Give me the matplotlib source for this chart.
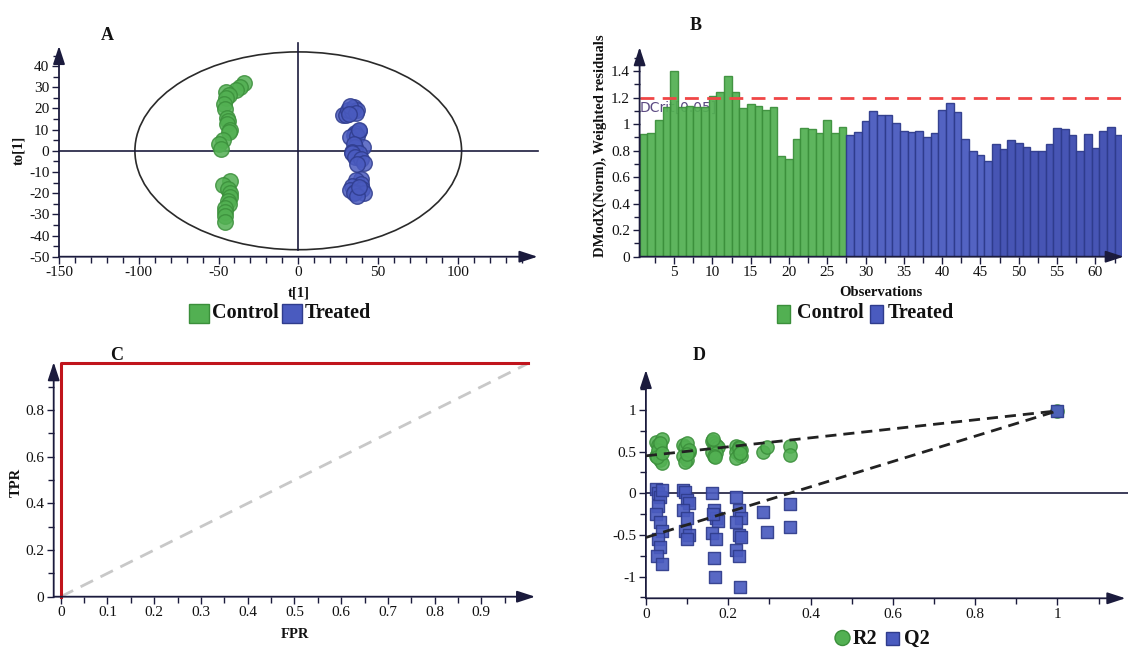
import matplotlib
matplotlib.use("Agg")
import matplotlib.pyplot as plt
from matplotlib.patches import Ellipse, Rectangle
from matplotlib.ticker import MultipleLocator, FixedLocator, FuncFormatter

plt.rcParams["font.family"] = ["Liberation Serif", "DejaVu Serif"]
plt.rcParams["axes.unicode_minus"] = False

# ---------------- data ----------------
# A: OPLS-DA scores
control_t = [-34.2, -36.5, -39.2, -45.4, -43.6, -45.0, -46.8, -45.9, -44.8, -44.0,
             -44.8, -42.5, -43.6, -47.0, -49.9, -48.6, -42.5, -47.0, -44.3, -43.0,
             -42.5, -44.3, -43.6, -46.0, -45.9, -45.9, -45.9]
control_to = [31.8, 29.9, 28.6, 27.8, 26.2, 25.0, 22.3, 19.9, 15.7, 14.0,
              12.8, 10.0, 8.9, 4.9, 3.3, 0.9, -14.1, -16.1, -18.0, -20.0,
              -22.0, -23.6, -25.1, -27.0, -29.1, -30.7, -33.8]
treated_t = [28.0, 30.2, 31.3, 33.6, 34.7, 36.9, 32.6, 36.0, 32.0,
             38.1, 35.8, 34.7, 32.5, 37.0, 38.0,
             40.3, 35.8, 35.0, 33.6, 38.1, 34.0, 35.8, 39.2, 41.4, 37.0,
             39.2, 36.0, 39.2, 33.6, 32.5, 40.0, 35.8, 41.4, 35.0, 36.9, 38.0]
treated_to = [16.8, 16.8, 19.1, 18.7, 20.7, 19.4, 21.0, 18.0, 17.5,
              9.3, 8.4, 7.6, 6.5, 7.0, 10.0,
              1.7, 1.7, 3.0, -0.6, -1.1, -1.0, -3.0, -3.8, -5.7, -6.0,
              -13.3, -14.0, -15.7, -16.4, -18.5, -18.0, -19.6, -20.1, -20.0, -21.2, -17.0]
hotelling_t, hotelling_to = 102.4, 46.7

# B: DModX per observation
dmodx_control = [0.925, 0.935, 1.03, 1.13, 1.40, 1.13, 1.14, 1.13, 1.13, 1.21,
                 1.24, 1.36, 1.24, 1.12, 1.15, 1.14, 1.11, 1.13, 0.76, 0.74,
                 0.89, 0.97, 0.96, 0.93, 1.03, 0.93, 0.98]
dmodx_treated = [0.92, 0.94, 1.02, 1.10, 1.07, 1.065, 1.01, 0.95, 0.94, 0.95,
                 0.905, 0.93, 1.11, 1.16, 1.09, 0.89, 0.80, 0.765, 0.72, 0.85,
                 0.81, 0.88, 0.86, 0.83, 0.80, 0.80, 0.85, 0.97, 0.96, 0.915,
                 0.80, 0.925, 0.82, 0.95, 0.98, 0.915]
dcrit = 1.2

# C: ROC curve
fpr = [0.0, 0.0, 1.0]
tpr = [0.0, 1.0, 1.0]

# D: permutation test
perm_corr = [0.025, 0.030, 0.035, 0.040, 0.030, 0.025, 0.035, 0.040, 0.030, 0.035, 0.028, 0.038,
             0.090, 0.095, 0.100, 0.105, 0.090, 0.100, 0.095, 0.105, 0.100,
             0.160, 0.165, 0.170, 0.175, 0.160, 0.170, 0.165, 0.168, 0.163,
             0.220, 0.225, 0.230, 0.220, 0.225, 0.230, 0.220, 0.225, 0.228,
             0.285, 0.295, 0.350, 0.350, 1.0]
perm_r2 = [0.62, 0.58, 0.55, 0.65, 0.50, 0.45, 0.40, 0.36, 0.52, 0.60, 0.43, 0.48,
           0.58, 0.55, 0.60, 0.50, 0.45, 0.40, 0.38, 0.52, 0.47,
           0.63, 0.60, 0.58, 0.55, 0.50, 0.48, 0.45, 0.43, 0.65,
           0.57, 0.55, 0.52, 0.50, 0.47, 0.45, 0.42, 0.54, 0.48,
           0.49, 0.55, 0.57, 0.46, 0.99]
perm_q2 = [0.05, 0.00, -0.05, 0.04, -0.15, -0.25, -0.35, -0.45, -0.55, -0.65, -0.75, -0.85,
           0.04, 0.02, -0.08, -0.12, -0.20, -0.30, -0.45, -0.50, -0.55,
           0.00, -0.20, -0.30, -0.33, -0.48, -0.55, -0.78, -1.00, -0.25,
           -0.05, -0.20, -0.30, -0.35, -0.50, -0.52, -0.68, -0.75, -1.12,
           -0.22, -0.46, -0.13, -0.41, 0.99]
r2_intercept = 0.45
q2_intercept = -0.53

# ---------------- styling ----------------
W, H = 1128, 648
AX = "#1b1b3d"
GREEN, GREEN_E = "#52b052", "#3b8f3b"
BLUE, BLUE_E = "#4a5bbf", "#2f3c8c"
BLUE_DARK = "#3d4cb0"

fig = plt.figure(figsize=(W / 100, H / 100), dpi=100)


def axes_px(x0, x1, y_top, y_bot):
    return fig.add_axes([x0 / W, 1 - y_bot / H, (x1 - x0) / W, (y_bot - y_top) / H])


def ftext(x, y, s, **kw):
    fig.text(x / W, 1 - y / H, s, **kw)


def arrow(ax, x0, y0, x1, y1):
    ax.annotate("", xy=(x1, y1), xytext=(x0, y0), xycoords="data",
                arrowprops=dict(arrowstyle="-|>,head_length=0.55,head_width=0.18",
                                mutation_scale=20, lw=1.3, color=AX,
                                shrinkA=0, shrinkB=0),
                annotation_clip=False)


fmt = FuncFormatter(lambda v, p: "%g" % round(v, 3))


def style(ax):
    for s in ax.spines.values():
        s.set_visible(False)
    ax.tick_params(which="both", direction="out", color=AX, width=1,
                   labelsize=11, labelcolor="#111111", pad=2)
    ax.tick_params(which="major", length=5)
    ax.tick_params(which="minor", length=4)
    ax.xaxis.set_major_formatter(fmt)
    ax.yaxis.set_major_formatter(fmt)
    ax.patch.set_visible(False)


def rect_px(x0, x1, y0, y1, fc, ec):
    fig.add_artist(Rectangle((x0 / W, 1 - y1 / H), (x1 - x0) / W, (y1 - y0) / H,
                             transform=fig.transFigure, fc=fc, ec=ec, lw=1))


LEG = dict(fontsize=14.5, fontweight="bold", ha="left", va="center", color="#111111")
LAB = dict(fontsize=10.5, fontweight="bold", ha="center", va="center", color="#111111")
TIT = dict(fontsize=13, fontweight="bold", ha="center", va="center", color="#111111")

# ---------------- A: scores plot ----------------
axA = axes_px(59, 537.5, 42.8, 256.7)
style(axA)
axA.set_xlim(-150, 150)
axA.set_ylim(-50, 51)
axA.xaxis.set_major_locator(FixedLocator([-150, -100, -50, 0, 50, 100]))
axA.xaxis.set_minor_locator(FixedLocator(list(range(-140, 141, 10))))
axA.yaxis.set_major_locator(FixedLocator(list(range(-50, 41, 10))))
axA.yaxis.set_minor_locator(FixedLocator(list(range(-45, 46, 5))))
axA.add_patch(Ellipse((0, 0), 2 * hotelling_t, 2 * hotelling_to, fill=False,
                      ec="#2a2a2a", lw=1.2, zorder=1))
axA.plot([-150, 150], [0, 0], color=AX, lw=1.2, zorder=1, clip_on=False)
axA.plot([0, 0], [-hotelling_to, 51], color=AX, lw=1.2, zorder=1, clip_on=False)
axA.scatter(control_t, control_to, s=125, c=GREEN, edgecolors=GREEN_E,
            linewidths=1, alpha=0.85, zorder=3)
axA.scatter(treated_t, treated_to, s=125, c=BLUE, edgecolors=BLUE_E,
            linewidths=1, alpha=0.85, zorder=3)
arrow(axA, -150, -50, 150, -50)
arrow(axA, -150, -50, -150, 49.5)
ftext(107, 35, "A", **TIT)
ftext(299, 293, "t[1]", **LAB)
ftext(19, 150, "to[1]", rotation=90, **LAB)
rect_px(189, 209, 304, 323, GREEN, GREEN_E)
ftext(212, 313.5, "Control", **LEG)
rect_px(282, 302, 304, 323, BLUE, BLUE_E)
ftext(305, 313.5, "Treated", **LEG)

# ---------------- B: DModX ----------------
axB = axes_px(639.6, 1122.2, 47.2, 256.7)
style(axB)
n_c = len(dmodx_control)
obs_c = list(range(1, n_c + 1))
obs_t = list(range(n_c + 1, n_c + len(dmodx_treated) + 1))
axB.set_xlim(0.5, 63.5)
axB.set_ylim(0, 1.58)
axB.text(0.55, 1.12, "DCrit[0.05]", fontsize=10, color="#5b4a82",
         family="DejaVu Sans", ha="left", va="center", zorder=1)
axB.bar(obs_c, dmodx_control, width=1.0, color=GREEN, edgecolor=GREEN_E,
        linewidth=1, alpha=0.93, zorder=2)
colors_t = [BLUE if o < 47 else BLUE_DARK for o in obs_t]
axB.bar(obs_t, dmodx_treated, width=1.0, color=colors_t, edgecolor=BLUE_E,
        linewidth=1, alpha=0.95, zorder=2)
axB.plot([0.5, 63.9], [dcrit, dcrit], color="#f04646", lw=2,
         dashes=(5, 3), zorder=3, clip_on=False)
axB.xaxis.set_major_locator(FixedLocator(list(range(5, 61, 5))))
axB.xaxis.set_minor_locator(FixedLocator([2.5 + 5 * i for i in range(13)]))
axB.yaxis.set_major_locator(FixedLocator([0, 0.2, 0.4, 0.6, 0.8, 1.0, 1.2, 1.4]))
axB.yaxis.set_minor_locator(FixedLocator([0.1, 0.3, 0.5, 0.7, 0.9, 1.1, 1.3, 1.5]))
arrow(axB, 0.5, 0, 63.7, 0)
arrow(axB, 0.5, 0, 0.5, 1.58)
ftext(696, 25, "B", **TIT)
ftext(881, 293, "Observations", **LAB)
ftext(600, 146, "DModX(Norm), Weighted residuals", rotation=90, **LAB)
rect_px(777, 790, 305, 323, GREEN, GREEN_E)
ftext(797, 313.5, "Control", **LEG)
rect_px(870, 883, 305, 323, BLUE, BLUE_E)
ftext(888, 313.5, "Treated", **LEG)

# ---------------- C: ROC ----------------
axC = axes_px(53.7, 535.1, 363.4, 596.7)
style(axC)
axC.set_xlim(-0.015, 1.015)
axC.set_ylim(0, 1.0)
axC.plot([0, 1], [0, 1], color="#c8c8c8", lw=2, dashes=(5, 3), zorder=1)
axC.plot(fpr, tpr, color="#c0141c", lw=2.2, zorder=2, clip_on=False)
axC.xaxis.set_major_locator(FixedLocator([i / 10 for i in range(10)]))
axC.xaxis.set_minor_locator(FixedLocator([0.05 + i / 10 for i in range(10)]))
axC.yaxis.set_major_locator(FixedLocator([0, 0.2, 0.4, 0.6, 0.8]))
axC.yaxis.set_minor_locator(FixedLocator([0.1, 0.3, 0.5, 0.7, 0.9]))
arrow(axC, -0.015, 0, 1.015, 0)
arrow(axC, -0.015, 0, -0.015, 1.005)
ftext(117, 355, "C", **TIT)
ftext(295, 635, "FPR", **LAB)
ftext(16, 482, "TPR", rotation=90, **LAB)

# ---------------- D: permutation plot ----------------
axD = axes_px(645.9, 1125.4, 370, 598.3)
style(axD)
axD.set_xlim(0, 1.165)
axD.set_ylim(-1.26, 1.48)
axD.plot([0, 1.2], [0, 0], color=AX, lw=1.2, zorder=1, clip_on=False)
axD.scatter(perm_corr, perm_r2, s=92, marker="o", c=GREEN, edgecolors=GREEN_E,
            linewidths=1, alpha=0.88, zorder=3)
axD.scatter(perm_corr, perm_q2, s=80, marker="s", c=BLUE, edgecolors=BLUE_E,
            linewidths=1, alpha=0.92, zorder=3)
axD.plot([0, 1], [r2_intercept, perm_r2[-1]], color="#222222", lw=2,
         dashes=(4, 2.5), zorder=4)
axD.plot([0, 1], [q2_intercept, perm_q2[-1]], color="#222222", lw=2,
         dashes=(4, 2.5), zorder=4)
axD.xaxis.set_major_locator(FixedLocator([0, 0.2, 0.4, 0.6, 0.8, 1.0]))
axD.xaxis.set_minor_locator(FixedLocator([0.1, 0.3, 0.5, 0.7, 0.9, 1.1]))
axD.yaxis.set_major_locator(FixedLocator([-1, -0.5, 0, 0.5, 1]))
axD.yaxis.set_minor_locator(FixedLocator([-1.25, -0.75, -0.25, 0.25, 0.75, 1.25]))
arrow(axD, 0, -1.26, 1.165, -1.26)
arrow(axD, 0, -1.26, 0, 1.48)
ftext(699, 355, "D", **TIT)
fig.add_artist(Ellipse((842.5 / W, 1 - 638 / H), 15 / W, 15 / H,
                       transform=fig.transFigure, fc=GREEN, ec=GREEN_E, lw=1))
ftext(853, 638.5, "R2", **LEG)
rect_px(886, 899, 631.5, 644.5, BLUE, BLUE_E)
ftext(904, 638.5, "Q2", **LEG)

fig.savefig("out.png", dpi=100)
